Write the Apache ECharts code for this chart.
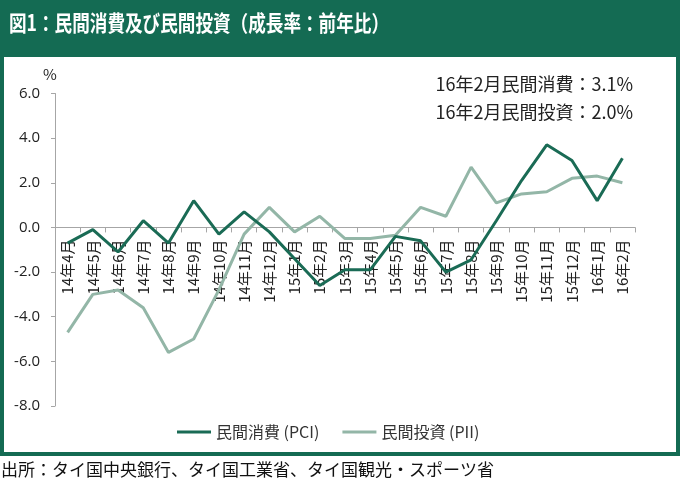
<!DOCTYPE html>
<html>
<head>
<meta charset="utf-8">
<script src="https://cdn.jsdelivr.net/npm/echarts@6/dist/echarts.min.js"></script>
<style>
html,body{margin:0;padding:0;background:#fff;}
#chart{width:680px;height:479px;}
</style>
</head>
<body>
<div id="chart"></div>
<script>
// ---- data ----
var categories = ['14年4月','14年5月','14年6月','14年7月','14年8月','14年9月','14年10月','14年11月','14年12月',
  '15年1月','15年2月','15年3月','15年4月','15年5月','15年6月','15年7月','15年8月','15年9月','15年10月','15年11月','15年12月',
  '16年1月','16年2月'];
var pciValues = [-0.7,-0.1,-1.1,0.3,-0.7,1.2,-0.3,0.7,-0.2,-1.4,-2.6,-1.9,-1.9,-0.4,-0.6,-2.0,-1.45,0.3,2.1,3.7,3.0,1.2,3.1];
var piiValues = [-4.7,-3.0,-2.8,-3.6,-5.6,-5.0,-2.8,-0.3,0.9,-0.2,0.5,-0.5,-0.5,-0.35,0.9,0.5,2.7,1.1,1.5,1.6,2.2,2.3,2.0];
var seriesNames = ['民間消費 (PCI)','民間投資 (PII)'];
var yTicks = {min:-8, max:6, interval:2};
var titleText = '図1：民間消費及び民間投資（成長率：前年比）';
var noteLines = ['16年2月民間消費：3.1%','16年2月民間投資：2.0%'];
var unitText = '%';
var sourceText = '出所：タイ国中央銀行、タイ国工業省、タイ国観光・スポーツ省';

var GREEN = '#146b53';
var PCI_COLOR = '#1a6b55';
var PII_COLOR = '#93b6a7';
var FONT = '"Noto Sans CJK JP", "Noto Sans", sans-serif';

var GRID_TOP = 93.5, GRID_BOTTOM = 73, H = 479;
var plotH = H - GRID_TOP - GRID_BOTTOM;
var zeroY = GRID_TOP + plotH * (yTicks.max - 0) / (yTicks.max - yTicks.min);
var xOffset = -((H - GRID_BOTTOM) - zeroY);

var chart = echarts.init(document.getElementById('chart'), null, {renderer:'canvas'});
chart.setOption({
  animation:false,
  backgroundColor:'#fff',
  graphic:[
    {type:'rect', z:-10, shape:{x:0,y:0,width:680,height:456}, style:{fill:GREEN}, silent:true},
    {type:'rect', z:-9, shape:{x:4,y:57,width:672,height:395}, style:{fill:'#fff'}, silent:true},
    {type:'text', x:9, y:23, scaleX:0.8, style:{text:titleText, fill:'#fff', font:'bold 22px '+FONT, textVerticalAlign:'middle'}},
    {type:'text', x:633, y:84, style:{text:noteLines[0], fill:'#222', font:'18px '+FONT, textAlign:'right', textVerticalAlign:'middle'}},
    {type:'text', x:633, y:112, style:{text:noteLines[1], fill:'#222', font:'18px '+FONT, textAlign:'right', textVerticalAlign:'middle'}},
    {type:'text', x:50, y:74, style:{text:unitText, fill:'#222', font:'15px '+FONT, textAlign:'center', textVerticalAlign:'middle'}},
    {type:'text', x:1, y:470, style:{text:sourceText, fill:'#111', font:'17px '+FONT, textVerticalAlign:'middle'}}
  ],
  legend:{
    left:172, top:419,
    itemWidth:34, itemHeight:3, itemGap:23,
    icon:'rect',
    textStyle:{fontSize:16, color:'#333', fontFamily:FONT},
    data:seriesNames
  },
  grid:{left:55, right:45, top:GRID_TOP, bottom:GRID_BOTTOM, containLabel:false},
  xAxis:{
    type:'category',
    data:categories,
    boundaryGap:true,
    offset:xOffset,
    axisLine:{onZero:false, lineStyle:{color:'#a6a6a6', width:1}},
    axisTick:{show:true, length:5, lineStyle:{color:'#a6a6a6'}},
    axisLabel:{rotate:90, interval:0, margin:12, fontSize:15, color:'#222', fontFamily:FONT}
  },
  yAxis:{
    type:'value',
    min:yTicks.min, max:yTicks.max, interval:yTicks.interval,
    axisLine:{show:true, lineStyle:{color:'#a6a6a6', width:1}},
    axisTick:{show:true, length:4, lineStyle:{color:'#a6a6a6'}},
    splitLine:{show:false},
    axisLabel:{margin:15, fontSize:15, color:'#222', fontFamily:'"Open Sans", "Noto Sans", sans-serif', formatter:function(v){return v.toFixed(1);}}
  },
  series:[
    {name:seriesNames[0], type:'line', data:pciValues, symbol:'none', lineStyle:{width:3, color:PCI_COLOR}, itemStyle:{color:PCI_COLOR}, z:3},
    {name:seriesNames[1], type:'line', data:piiValues, symbol:'none', lineStyle:{width:3, color:PII_COLOR}, itemStyle:{color:PII_COLOR}, z:2}
  ]
});
</script>
</body>
</html>
